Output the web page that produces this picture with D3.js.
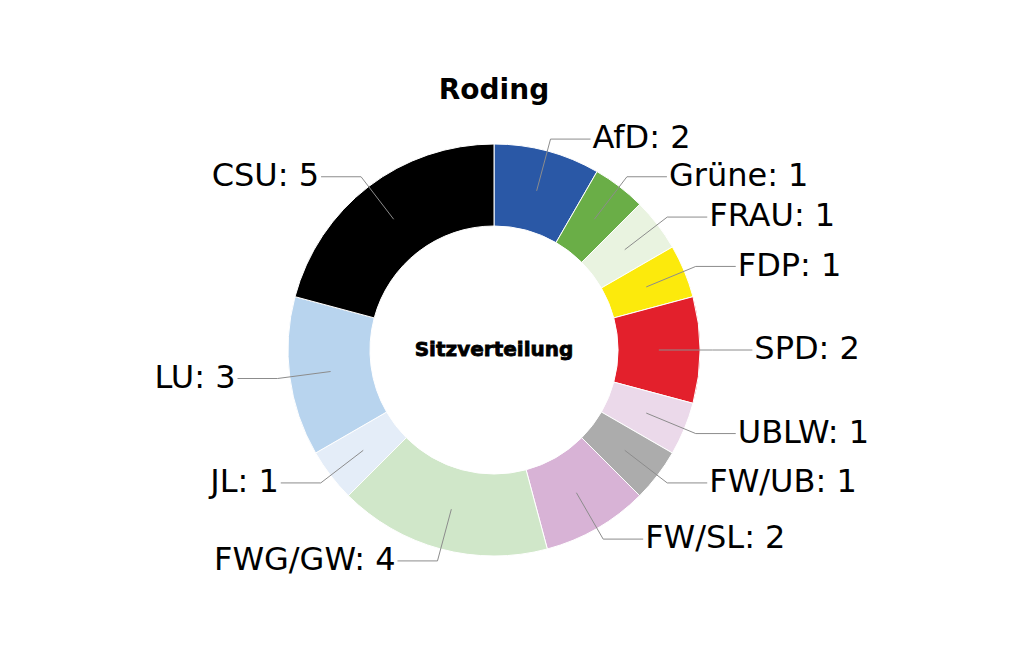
<!DOCTYPE html>
<html>
<head>
<meta charset="utf-8">
<script src="https://cdn.jsdelivr.net/npm/d3@7"></script>
<style>
  html, body { margin: 0; padding: 0; background: #fff; }
  text { font-family: "DejaVu Sans", sans-serif; }
</style>
</head>
<body>
<div id="chart"></div>
<script>
// Sitzverteilung Roding
var parties = ['AfD', 'Grüne', 'FRAU', 'FDP', 'SPD', 'UBLW', 'FW/UB', 'FW/SL', 'FWG/GW', 'JL', 'LU', 'CSU'];
var seats   = [2, 1, 1, 1, 2, 1, 1, 2, 4, 1, 3, 5];
var colors  = ['#2a58a6', '#6aae47', '#e9f3e0', '#fcea0c', '#e3202c', '#ebd9ea',
               '#acacac', '#d8b3d6', '#d0e7c9', '#e4edf8', '#b8d4ee', '#000000'];
var title = 'Roding';
var centerLabel = 'Sitzverteilung';

var sizes = {width: 1024, height: 658},
    cx = 494, cy = 350,
    rOuter = 206, rInner = 124;

var svg = d3.select('#chart')
            .append('svg')
            .attr('width', sizes.width)
            .attr('height', sizes.height);

var data = parties.map(function(p, i){ return {party: p, seats: seats[i], color: colors[i]}; });

var pie = d3.pie().sort(null).value(function(d){ return d.seats; });
var arc = d3.arc().innerRadius(rInner).outerRadius(rOuter);
var arcs = pie(data);

var g = svg.append('g').attr('transform', 'translate(' + cx + ',' + cy + ')');

g.selectAll('path.slice')
  .data(arcs)
  .enter()
  .append('path')
  .attr('class', 'slice')
  .attr('d', arc)
  .style('fill', function(d){ return d.data.color; })
  .style('stroke', '#fff')
  .style('stroke-width', 1);

// leader lines: point inside ring -> elbow just outside -> horizontal run
var polar = function(r, a){ return [r * Math.sin(a), -r * Math.cos(a)]; };
var run = 40;

arcs.forEach(function(d){
  var a = (d.startAngle + d.endAngle) / 2,
      p0 = polar(rOuter * 0.8, a),
      p1 = polar(rOuter * 1.06, a),
      side = p1[0] >= -0.5 ? 1 : -1,
      p2 = [p1[0] + side * run, p1[1]];

  g.append('polyline')
    .attr('points', [p0, p1, p2].map(function(p){ return p.join(','); }).join(' '))
    .style('fill', 'none')
    .style('stroke', '#8c8c8c')
    .style('stroke-width', 1);

  g.append('text')
    .attr('x', p2[0] + side * 2)
    .attr('y', p2[1])
    .attr('dy', '0.29em')
    .attr('text-anchor', side > 0 ? 'start' : 'end')
    .style('font-size', '32px')
    .style('fill', '#000')
    .text(d.data.party + ': ' + d.data.seats);
});

g.append('text')
  .attr('x', 0)
  .attr('y', 0)
  .attr('dy', '0.3em')
  .attr('text-anchor', 'middle')
  .style('font-size', '20px')
  .style('font-weight', 'bold')
  .style('stroke', '#000')
  .style('stroke-width', 0.8)
  .text(centerLabel);

svg.append('text')
  .attr('x', cx)
  .attr('y', 99)
  .attr('text-anchor', 'middle')
  .style('font-size', '28px')
  .style('font-weight', 'bold')
  .text(title);
</script>
</body>
</html>
